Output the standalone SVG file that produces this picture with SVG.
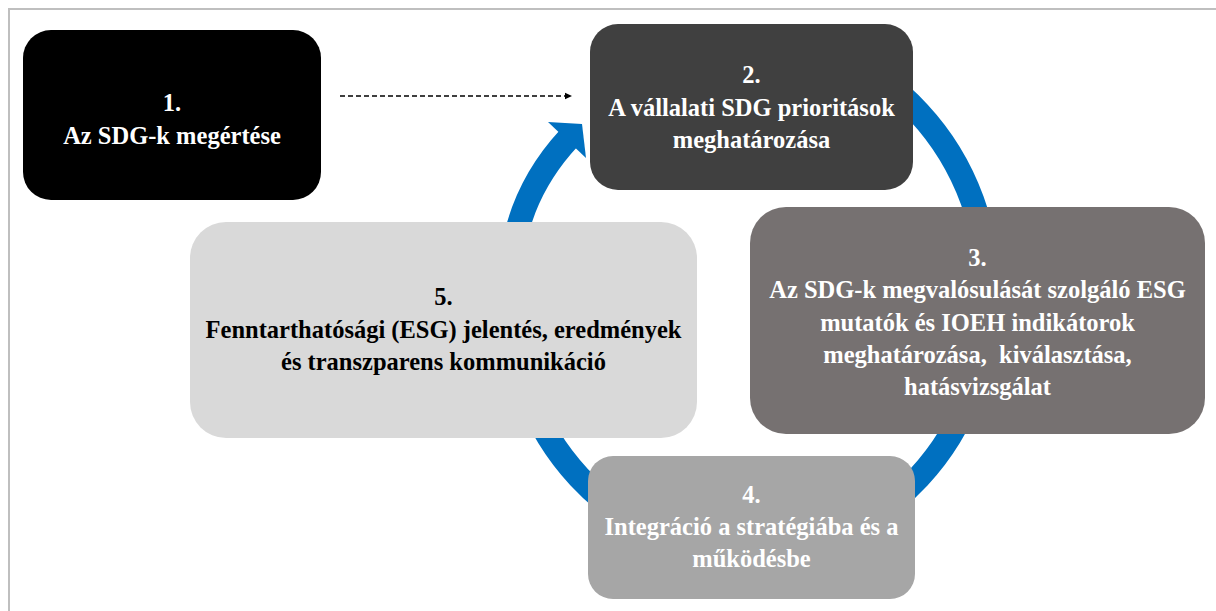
<svg xmlns="http://www.w3.org/2000/svg" width="1216" height="611" viewBox="0 0 1216 611">
  <defs>
    <marker id="dashHead" markerWidth="8" markerHeight="8" refX="7" refY="4" orient="auto" markerUnits="userSpaceOnUse">
      <path d="M0,0.8 L7,4 L0,7.2 Z" fill="#000000"/>
    </marker>
    <style>
      .box { stroke: none; }
      .t { font-family: "Liberation Serif", "Times New Roman", serif; font-weight: bold; font-size: 24.5px; text-anchor: middle; white-space: pre; }
      .w { fill: #ffffff; }
      .k { fill: #000000; }
      .ring { fill: none; stroke: #0070C0; stroke-width: 24; }
      .frame { stroke: #BFBFBF; stroke-width: 2; fill: none; }
    </style>
  </defs>
  <rect x="0" y="0" width="1216" height="611" fill="#ffffff"/>
  <path class="frame" d="M9,611 L9,9 L1216,9"/>

  <g id="connectors">
    <path class="ring" d="M 749 37 A 240 258 0 0 1 989 295 A 240 258 0 0 1 749 553 A 240 258 0 0 1 509 295 C 509 230 530 180 569 138"/>
    <polygon points="548,122 586,158 582,124" fill="#0070C0"/>
    <line x1="340" y1="96" x2="572" y2="96" stroke="#000000" stroke-width="1.5" stroke-dasharray="5 3" marker-end="url(#dashHead)"/>
  </g>

  <g id="node1">
    <rect class="box" x="23" y="30" width="298" height="170" rx="28" fill="#000000"/>
    <text class="t w" x="172" y="111">1.</text>
    <text class="t w" x="172" y="144">Az SDG-k megértése</text>
  </g>

  <g id="node2">
    <rect class="box" x="590" y="24" width="323" height="166" rx="28" fill="#404040"/>
    <text class="t w" x="751.5" y="83">2.</text>
    <text class="t w" x="751.5" y="116">A vállalati SDG prioritások</text>
    <text class="t w" x="751.5" y="148">meghatározása</text>
  </g>

  <g id="node3">
    <rect class="box" x="750" y="207" width="455" height="227" rx="36" fill="#767171"/>
    <text class="t w" x="977.5" y="266">3.</text>
    <text class="t w" x="977.5" y="298">Az SDG-k megvalósulását szolgáló ESG</text>
    <text class="t w" x="977.5" y="331">mutatók és IOEH indikátorok</text>
    <text class="t w" x="977.5" y="363">meghatározása,  kiválasztása,</text>
    <text class="t w" x="977.5" y="395">hatásvizsgálat</text>
  </g>

  <g id="node4">
    <rect class="box" x="588" y="456" width="327" height="143" rx="25" fill="#A6A6A6"/>
    <text class="t w" x="751.5" y="503">4.</text>
    <text class="t w" x="751.5" y="535">Integráció a stratégiába és a</text>
    <text class="t w" x="751.5" y="567">működésbe</text>
  </g>

  <g id="node5">
    <rect class="box" x="190" y="222" width="507" height="216" rx="36" fill="#D9D9D9"/>
    <text class="t k" x="443.5" y="305">5.</text>
    <text class="t k" x="443.5" y="338">Fenntarthatósági (ESG) jelentés, eredmények</text>
    <text class="t k" x="443.5" y="370">és transzparens kommunikáció</text>
  </g>
</svg>
